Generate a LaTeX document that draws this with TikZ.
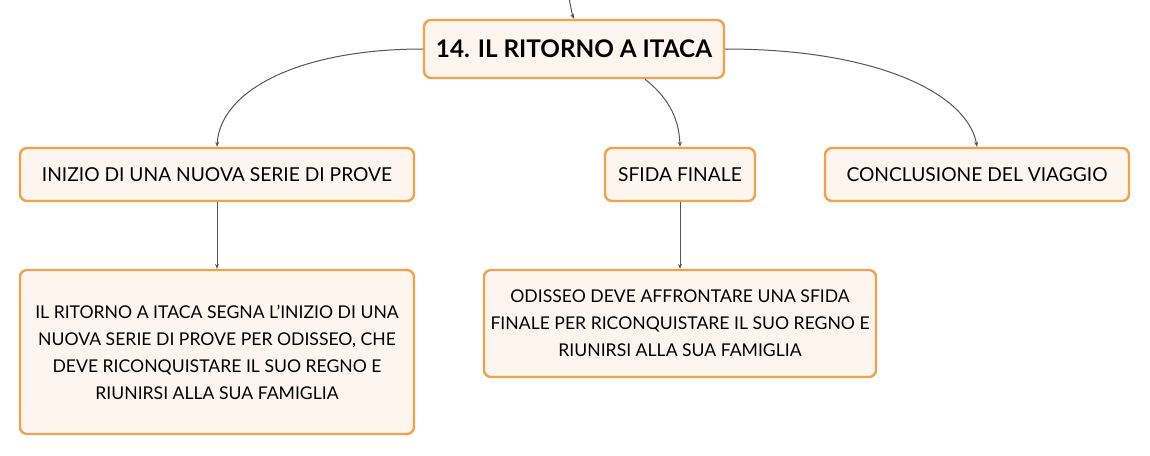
\documentclass[tikz,border=0pt]{standalone}
\usepackage{fontspec}
\setmainfont{Lato}
\usetikzlibrary{arrows.meta}
\definecolor{boxborder}{HTML}{F2A24E}
\definecolor{boxfill}{HTML}{FEF6EE}
\definecolor{linkcol}{HTML}{555555}
\begin{document}
\begin{tikzpicture}[x=1pt,y=-1pt,
  box/.style={draw=boxborder,fill=boxfill,line width=2.4pt,rounded corners=7pt,
    align=center,inner sep=0pt,font=\fontsize{19.2}{27}\selectfont,text=black},
  textbox/.style={box,font=\fontsize{17.6}{27}\selectfont},
  link/.style={draw=linkcol,line width=1pt,-{Stealth[length=5pt,width=4pt]}}]
\useasboundingbox (0,0) rectangle (1150,455);
\node[box,minimum width=300pt,minimum height=58pt,font=\fontsize{24.3}{27}\selectfont\bfseries] (root) at (574,49) {14. IL RITORNO A ITACA};
\node[box,minimum width=394pt,minimum height=53pt] (inizio) at (217,174.5) {INIZIO DI UNA NUOVA SERIE DI PROVE};
\node[box,minimum width=150pt,minimum height=53pt] (sfida) at (680,174.5) {SFIDA FINALE};
\node[box,minimum width=304pt,minimum height=53pt] (concl) at (977,174.5) {CONCLUSIONE DEL VIAGGIO};
\node[textbox,minimum width=394pt,minimum height=164pt] (inizioT) at (217,352) {IL RITORNO A ITACA SEGNA L'INIZIO DI UNA\\NUOVA SERIE DI PROVE PER ODISSEO, CHE\\DEVE RICONQUISTARE IL SUO REGNO E\\RIUNIRSI ALLA SUA FAMIGLIA};
\node[textbox,minimum width=392pt,minimum height=107pt] (sfidaT) at (680,323.5) {ODISSEO DEVE AFFRONTARE UNA SFIDA\\FINALE PER RICONQUISTARE IL SUO REGNO E\\RIUNIRSI ALLA SUA FAMIGLIA};
\coordinate (top) at (569,-2);
\draw[link] (top) .. controls (571,8) and (572,14) .. (root.north);
\draw[link] (root.west) .. controls (300,49) and (220,90) .. (inizio.north);
\draw[link] (root.east) .. controls (880,49) and (968,95) .. (concl.north);
\draw[link] ([xshift=71pt]root.south) .. controls (665,95) and (679,115) .. (sfida.north);
\draw[link] (inizio.south) -- (inizioT.north);
\draw[link] (sfida.south) -- (sfidaT.north);
\end{tikzpicture}
\end{document}
